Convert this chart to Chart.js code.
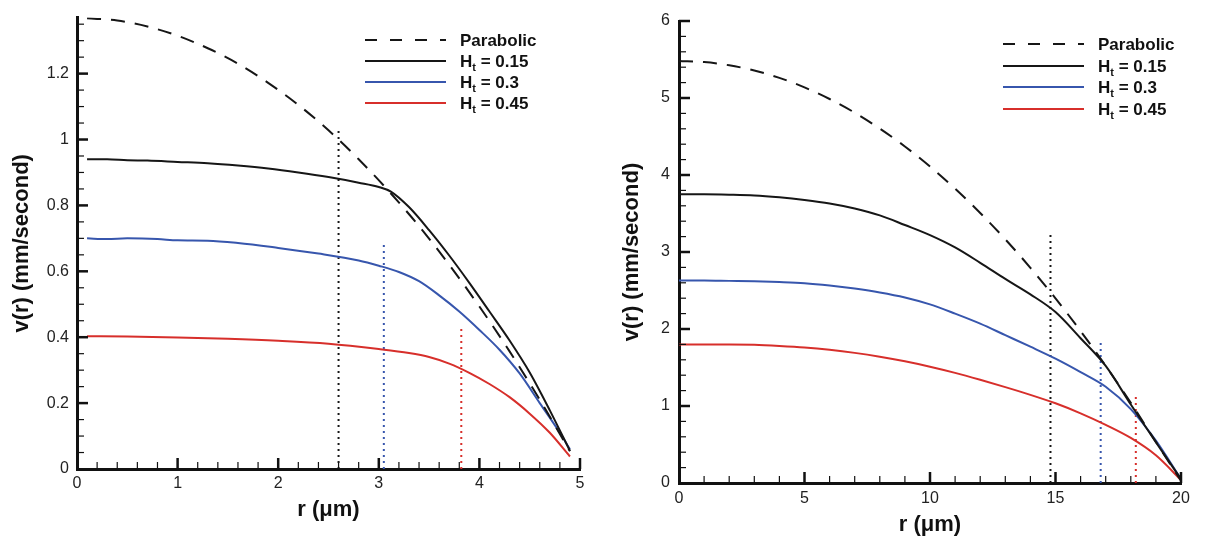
<!DOCTYPE html>
<html>
<head>
<meta charset="utf-8">
<title>Velocity profiles</title>
<script src="https://cdn.jsdelivr.net/npm/chart.js@4.4.0/dist/chart.umd.min.js"></script>
<style>
  body { margin: 0; background: #fff; }
  #wrap { position: relative; width: 1210px; height: 540px; overflow: hidden; }
  canvas { position: absolute; top: 0; }
  #cLeft { left: 0; }
  #cRight { left: 600px; }
  .legend { position: absolute; font: bold 17px 'Liberation Sans', Arial, sans-serif; color: #111; }
  .legend .row { position: relative; height: 21px; }
  .legend .sample { position: absolute; left: 0; top: 9px; width: 81px; height: 2px; }
  .legend .txt { position: absolute; left: 95px; top: 0; line-height: 21px; white-space: nowrap; }
  .legend sub { font-size: 11px; vertical-align: -4px; line-height: 0; }
</style>
</head>
<body>
<div id="wrap">
  <canvas id="cLeft" width="600" height="540"></canvas>
  <canvas id="cRight" width="610" height="540"></canvas>
  <div class="legend" id="legLeft" style="left:365px; top:30px;"></div>
  <div class="legend" id="legRight" style="left:1003px; top:34px;"></div>
</div>
<script>
// ---- left panel (tube radius 5 um) ----
const rParabL = [0.1, 0.4, 0.7, 1.0, 1.3, 1.6, 1.9, 2.2, 2.5, 2.8, 3.1, 3.4, 3.7, 4.0, 4.3, 4.6, 4.9];
const vParabL = [1.368, 1.361, 1.343, 1.315, 1.277, 1.230, 1.172, 1.105, 1.028, 0.940, 0.843, 0.737, 0.620, 0.493, 0.357, 0.210, 0.054];

const rH15L = [0.1, 0.3, 0.5, 0.7, 1.0, 1.3, 1.6, 1.9, 2.2, 2.5, 2.8, 3.0, 3.12, 3.3, 3.5, 3.7, 3.9, 4.1, 4.3, 4.5, 4.7, 4.9];
const vH15L = [0.940, 0.940, 0.937, 0.936, 0.932, 0.928, 0.921, 0.912, 0.900, 0.886, 0.869, 0.856, 0.842, 0.795, 0.725, 0.648, 0.565, 0.478, 0.390, 0.293, 0.178, 0.055];

const rH30L = [0.1, 0.3, 0.5, 0.8, 1.0, 1.3, 1.6, 2.0, 2.4, 2.8, 3.0, 3.2, 3.4, 3.6, 3.8, 4.0, 4.2, 4.4, 4.6, 4.8, 4.9];
const vH30L = [0.700, 0.698, 0.700, 0.698, 0.694, 0.693, 0.686, 0.671, 0.654, 0.633, 0.617, 0.598, 0.570, 0.527, 0.478, 0.422, 0.362, 0.290, 0.200, 0.110, 0.060];

const rH45L = [0.1, 0.5, 1.0, 1.5, 2.0, 2.5, 3.0, 3.3, 3.5, 3.7, 3.9, 4.1, 4.3, 4.5, 4.7, 4.9];
const vH45L = [0.403, 0.402, 0.399, 0.395, 0.389, 0.380, 0.364, 0.352, 0.340, 0.320, 0.292, 0.258, 0.218, 0.168, 0.110, 0.038];

// dotted markers (r position and top of the dotted line)
const rCutL = [2.6, 3.05, 3.82];
const vCutL = [1.03, 0.69, 0.43];

const xTicksL = [0, 1, 2, 3, 4, 5];
const yTicksL = [0, 0.2, 0.4, 0.6, 0.8, 1, 1.2];

// ---- right panel (tube radius 20 um) ----
const rR = [0, 1, 2, 3, 4, 5, 6, 7, 8, 9, 10, 11, 12, 13, 14, 15, 16, 17, 18, 19, 20];
const vParabR = [5.48, 5.466, 5.425, 5.357, 5.261, 5.138, 4.987, 4.809, 4.603, 4.371, 4.11, 3.822, 3.507, 3.165, 2.795, 2.398, 1.973, 1.521, 1.041, 0.534, 0.03];
const vH15R = [3.75, 3.75, 3.745, 3.735, 3.71, 3.675, 3.63, 3.565, 3.475, 3.35, 3.22, 3.06, 2.86, 2.65, 2.45, 2.22, 1.88, 1.52, 1.02, 0.53, 0.05];
const vH30R = [2.63, 2.63, 2.625, 2.62, 2.61, 2.595, 2.565, 2.525, 2.475, 2.41, 2.32, 2.2, 2.07, 1.92, 1.77, 1.615, 1.44, 1.25, 0.96, 0.55, 0.05];
const vH45R = [1.80, 1.80, 1.80, 1.795, 1.78, 1.76, 1.73, 1.69, 1.64, 1.58, 1.51, 1.43, 1.34, 1.245, 1.145, 1.035, 0.905, 0.755, 0.585, 0.36, 0.04];

const rCutR = [14.8, 16.8, 18.2];
const vCutR = [3.22, 1.87, 1.17];

const xTicksR = [0, 5, 10, 15, 20];
const yTicksR = [0, 1, 2, 3, 4, 5, 6];

const htValues = [0.15, 0.3, 0.45];

// colours for Parabolic, H=0.15, 0.3, 0.45
const colors = ['#161616', '#161616', '#3756ad', '#d72f2b'];

Chart.defaults.font.family = "'Liberation Sans', Arial, sans-serif";
Chart.defaults.color = '#222';

function pts(xs, ys) {
    return xs.map((x, i) => ({ x: x, y: ys[i] }));
}

function curve(label, data, color, dash) {
    return {
        label: label,
        data: data,
        borderColor: color,
        borderWidth: 2,
        borderDash: dash || [],
        pointRadius: 0,
        showLine: true,
        fill: false,
        cubicInterpolationMode: 'monotone'
    };
}

function cutLine(x, top, color) {
    return {
        label: 'cut',
        data: [{ x: x, y: 0 }, { x: x, y: top }],
        borderColor: color,
        borderWidth: 2,
        borderDash: [2, 4],
        pointRadius: 0,
        showLine: true,
        fill: false
    };
}

function fmt(v) {
    return String(+v.toFixed(2));
}

function isMult(v, step) {
    const q = v / step;
    return Math.abs(q - Math.round(q)) < 1e-6;
}

// small tick marks pointing into the plot, like the original
const innerTicks = {
    id: 'innerTicks',
    afterDraw(chart, args, o) {
        const ctx = chart.ctx;
        const xs = chart.scales.x, ys = chart.scales.y;
        const left = chart.chartArea.left, bottom = chart.chartArea.bottom;
        ctx.save();
        ctx.strokeStyle = '#111';
        const nx = Math.round((xs.max - xs.min) / o.xMinor);
        for (let i = 1; i <= nx; i++) {
            const v = xs.min + i * o.xMinor;
            const major = isMult(v, o.xMajor);
            const px = xs.getPixelForValue(v);
            ctx.lineWidth = major ? 2.5 : 1.2;
            ctx.beginPath();
            ctx.moveTo(px, bottom);
            ctx.lineTo(px, bottom - (major ? 11 : 7));
            ctx.stroke();
        }
        const ny = Math.floor((ys.max - ys.min) / o.yMinor + 1e-6);
        for (let i = 1; i <= ny; i++) {
            const v = ys.min + i * o.yMinor;
            const major = isMult(v, o.yMajor);
            const py = ys.getPixelForValue(v);
            ctx.lineWidth = major ? 2.5 : 1.2;
            ctx.beginPath();
            ctx.moveTo(left, py);
            ctx.lineTo(left + (major ? 11 : 7), py);
            ctx.stroke();
        }
        ctx.restore();
    }
};

function makeChart(id, cfg) {
    const datasets = [
        curve('Parabolic', cfg.parab, colors[0], [14, 10]),
        curve('Ht = 0.15', cfg.h15, colors[1]),
        curve('Ht = 0.3', cfg.h30, colors[2]),
        curve('Ht = 0.45', cfg.h45, colors[3])
    ];
    for (let i = 0; i < cfg.cutR.length; i++) {
        datasets.push(cutLine(cfg.cutR[i], cfg.cutV[i], colors[i + 1]));
    }
    return new Chart(document.getElementById(id), {
        type: 'scatter',
        data: { datasets: datasets },
        options: {
            responsive: false,
            animation: false,
            layout: { padding: cfg.pad },
            plugins: {
                legend: { display: false },
                tooltip: { enabled: false },
                innerTicks: cfg.ticks
            },
            scales: {
                x: {
                    type: 'linear',
                    min: cfg.xMin, max: cfg.xMax,
                    afterBuildTicks: s => { s.ticks = cfg.xTicks.map(v => ({ value: v })); },
                    afterFit: s => { s.height = cfg.xHeight; },
                    grid: { display: false, drawTicks: false },
                    border: { display: true, width: 3, color: '#111' },
                    ticks: { padding: cfg.xTickPad, font: { size: 16 }, color: '#222', callback: v => fmt(v), maxRotation: 0 },
                    title: {
                        display: true, text: 'r (\u03bcm)', color: '#111',
                        font: { size: 22, weight: 'bold' },
                        padding: { top: 0, bottom: cfg.xTitlePad }
                    }
                },
                y: {
                    type: 'linear',
                    min: cfg.yMin, max: cfg.yMax,
                    afterBuildTicks: s => { s.ticks = cfg.yTicks.map(v => ({ value: v })); },
                    afterFit: s => { s.width = cfg.yWidth; },
                    grid: { display: false, drawTicks: false },
                    border: { display: true, width: 3, color: '#111' },
                    ticks: { padding: cfg.yTickPad, font: { size: 16 }, color: '#222', callback: v => fmt(v) },
                    title: {
                        display: true, text: 'v(r) (mm/second)', color: '#111',
                        font: { size: 22, weight: 'bold' },
                        padding: { top: cfg.yTitlePad, bottom: 0 }
                    }
                }
            }
        },
        plugins: [innerTicks]
    });
}

makeChart('cLeft', {
    parab: pts(rParabL, vParabL),
    h15: pts(rH15L, vH15L),
    h30: pts(rH30L, vH30L),
    h45: pts(rH45L, vH45L),
    cutR: rCutL, cutV: vCutL,
    xMin: 0, xMax: 5, yMin: 0, yMax: 1.37,
    xTicks: xTicksL, yTicks: yTicksL,
    pad: { top: 10, right: 20, left: 0, bottom: 0 },
    xHeight: 71, yWidth: 77,
    xTickPad: 5, yTickPad: 8,
    xTitlePad: 17, yTitlePad: 9,
    ticks: { xMinor: 0.2, xMajor: 1, yMinor: 0.05, yMajor: 0.2 }
});

makeChart('cRight', {
    parab: pts(rR, vParabR),
    h15: pts(rR, vH15R),
    h30: pts(rR, vH30R),
    h45: pts(rR, vH45R),
    cutR: rCutR, cutV: vCutR,
    xMin: 0, xMax: 20, yMin: 0, yMax: 6,
    xTicks: xTicksR, yTicks: yTicksR,
    pad: { top: 21, right: 29, left: 0, bottom: 0 },
    xHeight: 57, yWidth: 79,
    xTickPad: 6, yTickPad: 9,
    xTitlePad: 2, yTitlePad: 19,
    ticks: { xMinor: 1, xMajor: 5, yMinor: 0.2, yMajor: 1 }
});

// legends (HTML so the subscript t can be shown)
function buildLegend(id) {
    const el = document.getElementById(id);
    let html = '';
    html += '<div class="row"><div class="sample" style="background:repeating-linear-gradient(to right,' + colors[0] + ' 0 12px,transparent 12px 25px)"></div><div class="txt">Parabolic</div></div>';
    for (let i = 0; i < htValues.length; i++) {
        html += '<div class="row"><div class="sample" style="background:' + colors[i + 1] + '"></div>';
        html += '<div class="txt">H<sub>t</sub> = ' + htValues[i] + '</div></div>';
    }
    el.innerHTML = html;
}
buildLegend('legLeft');
buildLegend('legRight');
document.getElementById('legRight').querySelectorAll('.row').forEach(r => { r.style.height = '21.5px'; });
</script>
</body>
</html>
